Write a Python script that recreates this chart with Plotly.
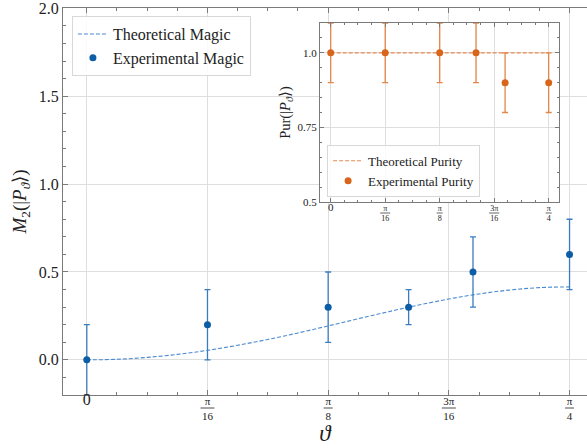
import numpy as np
import plotly.graph_objects as go

PI = np.pi

# ---------------- data ----------------
# theoretical magic curve, sampled every pi/64
theta_curve = [0.0, 0.0491, 0.0982, 0.1473, 0.1963, 0.2454, 0.2945, 0.3436,
               0.3927, 0.4418, 0.4909, 0.5400, 0.5890, 0.6381, 0.6872, 0.7363, 0.7854]
magic_theory = [0.000, 0.003, 0.014, 0.031, 0.054, 0.083, 0.116, 0.153,
                0.193, 0.234, 0.274, 0.312, 0.346, 0.375, 0.397, 0.411, 0.415]

# experimental points
theta_exp = [0.0, PI / 16, PI / 8, PI / 6, PI / 5, PI / 4]
magic_exp = [0.0, 0.2, 0.3, 0.3, 0.5, 0.6]
magic_err = [0.2, 0.2, 0.2, 0.1, 0.2, 0.2]

purity_theory_x = [0.0, PI / 4]
purity_theory = [1.0, 1.0]
purity_exp = [1.0, 1.0, 1.0, 1.0, 0.9, 0.9]
purity_err = [0.1, 0.1, 0.1, 0.1, 0.1, 0.1]

x_tickvals = [0.0, PI / 16, PI / 8, 3 * PI / 16, PI / 4]
x_ticknum = ["0", "π", "π", "3π", "π"]
x_tickden = ["", "16", "8", "16", "4"]
main_yticks = [0.0, 0.5, 1.0, 1.5, 2.0]
main_yticktext = ["0.0", "0.5", "1.0", "1.5", "2.0"]
inset_yticks = [0.5, 0.75, 1.0]
inset_yticktext = ["0.5", "0.75", "1.0"]

# ---------------- style ----------------
FONT = "Liberation Serif"
BLUE = "#0C5DA5"
BLUE_ERR = "#3a7cc0"
BLUE_LINE = "#4a8ad0"
ORANGE = "#d9651b"
ORANGE_ERR = "#e2864a"
ORANGE_LINE = "#e88a52"
SPINE = "#7a7a7a"
GRID = "#dedede"
TXT = "#222222"

main_xrange = [-0.0387, 0.8138]
main_yrange = [-0.2, 2.002]
inset_xrange = [-0.0385, 0.8226]
inset_yrange = [0.5, 1.1]


def tick_labels(size_zero):
    out = []
    for n, d in zip(x_ticknum, x_tickden):
        if d == "":
            out.append(f"<span style='font-size:{size_zero}px'>{n}</span>")
        else:
            out.append(f"{n}<br>{d}")
    return out


fig = go.Figure()

fig.add_trace(go.Scatter(
    x=theta_curve, y=magic_theory, mode="lines", line_shape="spline",
    line=dict(color=BLUE_LINE, width=1.1, dash="4px,2px"),
    name="Theoretical Magic", legend="legend", xaxis="x", yaxis="y"))

fig.add_trace(go.Scatter(
    x=theta_exp, y=magic_exp, mode="markers",
    marker=dict(color=BLUE, size=7),
    error_y=dict(type="data", array=magic_err, visible=True,
                 color=BLUE_ERR, thickness=1.3, width=3),
    name="Experimental Magic", legend="legend", xaxis="x", yaxis="y"))

fig.add_trace(go.Scatter(
    x=purity_theory_x, y=purity_theory, mode="lines",
    line=dict(color=ORANGE_LINE, width=1.1, dash="4px,2px"),
    name="Theoretical Purity", legend="legend2", xaxis="x2", yaxis="y2"))

fig.add_trace(go.Scatter(
    x=theta_exp, y=purity_exp, mode="markers",
    marker=dict(color=ORANGE, size=7),
    error_y=dict(type="data", array=purity_err, visible=True,
                 color=ORANGE_ERR, thickness=1.3, width=3),
    name="Experimental Purity", legend="legend2", xaxis="x2", yaxis="y2"))

common_axis = dict(showline=True, linecolor=SPINE, linewidth=1,
                   ticks="inside", tickcolor=SPINE, showgrid=True,
                   gridcolor=GRID, gridwidth=1, zeroline=False,
                   ticklabeloverflow="allow")

fig.update_layout(
    width=587, height=448,
    margin=dict(l=63, r=0, t=8, b=53),
    paper_bgcolor="white", plot_bgcolor="white",
    font=dict(family=FONT, color=TXT),
    showlegend=True,
    xaxis=dict(**common_axis, domain=[0, 1], range=main_xrange, mirror="ticks",
               tickmode="array", tickvals=x_tickvals, ticktext=tick_labels(16),
               tickfont=dict(size=11, family=FONT, color=TXT), ticklen=5,
               ticklabelstandoff=-4,
               minor=dict(ticks="inside", dtick=PI / 64, tick0=0, ticklen=3,
                          tickcolor=SPINE, showgrid=False),
               title=dict(text="<i>ϑ</i>", font=dict(size=23, family=FONT, color=TXT),
                          standoff=4),
               automargin=False),
    yaxis=dict(**common_axis, domain=[0, 1], range=main_yrange, mirror=False,
               tickmode="array", tickvals=main_yticks, ticktext=main_yticktext,
               tickfont=dict(size=16, family=FONT, color=TXT), ticklen=5,
               minor=dict(ticks="inside", dtick=0.1, tick0=0, ticklen=3,
                          tickcolor=SPINE, showgrid=False),
               title=dict(text="<i>M</i><sub>2</sub>(|<i>P</i><sub><i>ϑ</i></sub>⟩)",
                          font=dict(size=19, family=FONT, color=TXT), standoff=7),
               automargin=False),
    xaxis2=dict(**common_axis, domain=[0.4905, 0.9466], anchor="y2",
                range=inset_xrange, mirror="ticks",
                tickmode="array", tickvals=x_tickvals, ticktext=tick_labels(11),
                tickfont=dict(size=8, family=FONT, color=TXT), ticklen=4,
                ticklabelstandoff=-2,
                minor=dict(ticks="inside", dtick=PI / 64, tick0=0, ticklen=2,
                           tickcolor=SPINE, showgrid=False)),
    yaxis2=dict(**common_axis, domain=[0.4987, 0.9612], anchor="x2",
                range=inset_yrange, mirror="ticks",
                tickmode="array", tickvals=inset_yticks, ticktext=inset_yticktext,
                tickfont=dict(size=11, family=FONT, color=TXT), ticklen=4,
                minor=dict(ticks="inside", dtick=0.05, tick0=0.5, ticklen=2,
                           tickcolor=SPINE, showgrid=False),
                title=dict(text="Pur(|<i>P</i><sub><i>ϑ</i></sub>⟩)",
                           font=dict(size=14.5, family=FONT, color=TXT), standoff=3)),
    legend=dict(x=0.017, y=0.979, xanchor="left", yanchor="top",
                bgcolor="rgba(255,255,255,0.85)", bordercolor="#d8d8d8", borderwidth=1,
                font=dict(size=16, family=FONT, color=TXT), tracegroupgap=0,
                itemwidth=30),
    legend2=dict(x=0.504, y=0.512, xanchor="left", yanchor="bottom",
                 bgcolor="rgba(255,255,255,0.85)", bordercolor="#d8d8d8", borderwidth=1,
                 font=dict(size=13, family=FONT, color=TXT), tracegroupgap=0,
                 itemwidth=30),
)

shapes = []
# opaque background of the inset
shapes.append(dict(type="rect", xref="x2", yref="y2",
                   x0=inset_xrange[0], x1=inset_xrange[1],
                   y0=inset_yrange[0], y1=inset_yrange[1],
                   fillcolor="white", line=dict(width=0), layer="below"))
# fraction bars under tick labels
for tv, n, d in zip(x_tickvals, x_ticknum, x_tickden):
    if d == "":
        continue
    wide = len(d) > 1 or len(n) > 1
    hw = 7 if wide else 4.5
    shapes.append(dict(type="line", xref="x", yref="paper",
                       xsizemode="pixel", xanchor=tv, x0=-hw, x1=hw,
                       ysizemode="pixel", yanchor=0, y0=-13, y1=-13,
                       line=dict(color=TXT, width=0.8)))
    hw2 = 5 if wide else 3
    shapes.append(dict(type="line", xref="x2", yref="y2 domain",
                       xsizemode="pixel", xanchor=tv, x0=-hw2, x1=hw2,
                       ysizemode="pixel", yanchor=0, y0=-11, y1=-11,
                       line=dict(color=TXT, width=0.7)))
fig.update_layout(shapes=shapes)

fig.write_html("out.html")
